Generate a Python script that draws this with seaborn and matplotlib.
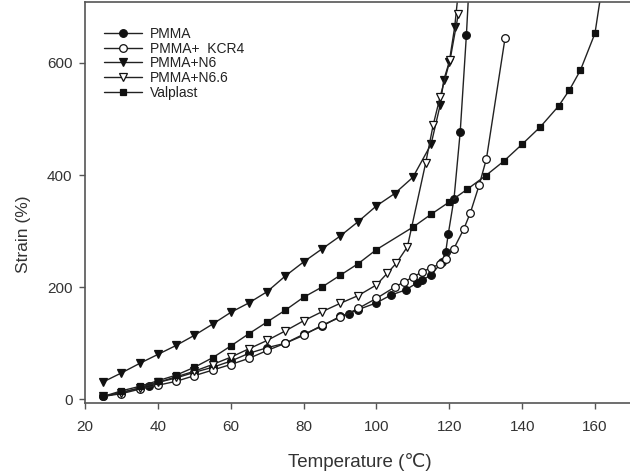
import matplotlib
matplotlib.use("Agg")
import matplotlib.pyplot as plt
import seaborn as sns
import numpy as np

# ---- data (last point of some series lies above the plotted range) ----
pmma_t = [25, 30, 35, 37.5, 40, 45, 50, 55, 60, 65, 70, 75, 80, 85, 90, 92.5, 95, 100, 104, 108, 111, 112.5, 115, 118, 119, 119.7, 121.3, 123, 124.7, 125.6]
pmma_s = [5, 12, 20, 24, 30, 38, 48, 57, 68, 82, 92, 100, 116, 130, 148, 153, 160, 172, 186, 195, 207, 212, 222, 245, 262, 294, 358, 477, 650, 760]

kcr4_t = [25, 30, 35, 40, 45, 50, 55, 60, 65, 70, 75, 80, 85, 90, 95, 100, 105, 107.5, 110, 112.5, 115, 117.5, 119, 121.2, 124, 125.8, 128.2, 130.2, 135.3]
kcr4_s = [5, 10, 18, 25, 32, 42, 52, 62, 73, 87, 100, 114, 132, 146, 162, 180, 200, 209, 218, 227, 235, 241, 251, 268, 304, 333, 382, 429, 644]

n6_t = [25, 30, 35, 40, 45, 50, 55, 60, 65, 70, 75, 80, 85, 90, 95, 100, 105, 110, 115, 117.5, 118.5, 120, 121.5, 123]
n6_s = [31, 47, 64, 80, 96, 114, 134, 155, 172, 192, 220, 245, 268, 291, 317, 345, 367, 396, 455, 525, 570, 602, 665, 760]

n66_t = [25, 30, 35, 40, 45, 50, 55, 60, 65, 70, 75, 80, 85, 90, 95, 100, 103, 105.5, 108.5, 113.5, 115.6, 117.5, 120.2, 122.5]
n66_s = [5, 12, 20, 30, 40, 50, 62, 75, 90, 105, 122, 140, 156, 171, 185, 204, 225, 243, 272, 421, 490, 540, 605, 688]

valp_t = [25, 30, 35, 40, 45, 50, 55, 60, 65, 70, 75, 80, 85, 90, 95, 100, 110, 115, 120, 125, 130, 135, 140, 145, 150, 153, 156, 160, 162.5]
valp_s = [5, 15, 23, 33, 43, 57, 74, 95, 117, 138, 159, 182, 200, 221, 242, 267, 307, 330, 352, 375, 399, 425, 455, 486, 523, 552, 587, 653, 760]

labels = ["PMMA", "PMMA+  KCR4", "PMMA+N6", "PMMA+N6.6", "Valplast"]
x_ticks = [20, 40, 60, 80, 100, 120, 140, 160]
y_ticks = [0, 200, 400, 600]

sns.set_theme(style="white")
plt.rcParams["font.family"] = ["Liberation Sans", "DejaVu Sans"]

fig = plt.figure(figsize=(6.3, 4.76), dpi=100)
ax = fig.add_axes([0.135, 0.153, 0.873, 0.843])

series = [
    (pmma_t, pmma_s, "o", "#111111", 5.5),
    (kcr4_t, kcr4_s, "o", "white", 5.5),
    (n6_t, n6_s, "v", "#111111", 6.0),
    (n66_t, n66_s, "v", "white", 6.0),
    (valp_t, valp_s, "s", "#111111", 5.0),
]
for (t, s, m, fc, ms), lab in zip(series, labels):
    sns.lineplot(x=t, y=s, ax=ax, sort=False, estimator=None, color="#222222",
                 linewidth=1.0, marker=m, markersize=ms,
                 markerfacecolor=fc, markeredgecolor="#111111", markeredgewidth=0.9,
                 label=lab)

ax.set_xlim(20, 171)
ax.set_ylim(-7, 709)
ax.set_xticks(x_ticks)
ax.set_yticks(y_ticks)
ax.set_xlabel("Temperature (\u2103)", fontsize=13.5, color="#333333", labelpad=14)
ax.set_ylabel("Strain (%)", fontsize=12.5, color="#333333")
ax.yaxis.set_label_coords(-0.098, 0.42)
ax.tick_params(axis="both", which="major", direction="out", length=4, width=1,
               colors="#555555", labelcolor="#333333", labelsize=11, pad=5,
               bottom=True, left=True)
ax.tick_params(axis="x", pad=8)
for side in ["left", "bottom", "top"]:
    ax.spines[side].set_color("#555555")
    ax.spines[side].set_linewidth(1.2)
ax.spines["right"].set_visible(False)

leg = ax.legend(loc="upper left", bbox_to_anchor=(0.027, 0.948), frameon=False,
                fontsize=10, handlelength=2.7, labelspacing=0.05, handletextpad=0.6,
                borderaxespad=0.0, borderpad=0.3)
for txt in leg.get_texts():
    txt.set_color("#222222")

fig.savefig("out.png", dpi=100)
